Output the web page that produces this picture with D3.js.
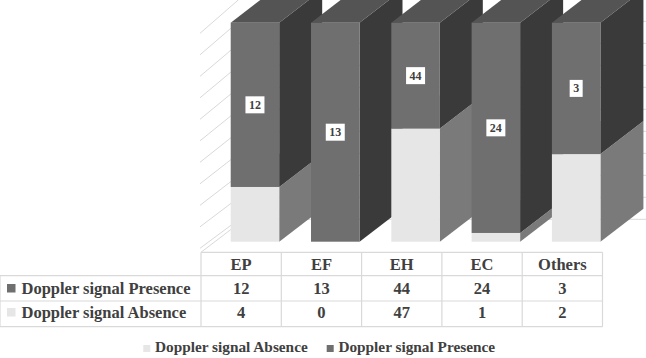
<!DOCTYPE html>
<html>
<head>
<meta charset="utf-8">
<script src="https://cdn.jsdelivr.net/npm/d3@7"></script>
<style>
	body { margin: 0; background: #fff; }
</style>
</head>
<body>
<svg></svg>
<script>
const categories = ['EP', 'EF', 'EH', 'EC', 'Others'];
const presence = [12, 13, 44, 24, 3];
const absence = [4, 0, 47, 1, 2];
const seriesNames = ['Doppler signal Absence', 'Doppler signal Presence'];
const gridTicks = [0, 0.1, 0.2, 0.3, 0.4, 0.5, 0.6, 0.7, 0.8, 0.9, 1];

const fontFamily = '"Liberation Serif"';

const svg = d3.select('svg')
	.attr('width', 646)
	.attr('height', 358);

const width = +svg.attr('width');

const colors = {
	absence: { front: '#e6e6e6', side: '#7a7a7a', top: '#bdbdbd' },
	presence: { front: '#6f6f6f', side: '#3a3a3a', top: '#545454' }
};

// table / category layout
const tableTop = 252.3,
	rowH = [23.4, 25.3, 25.7],
	labelColW = 201;

const xBand = d3.scaleBand()
	.domain(categories)
	.range([labelColW, 602.5]);

// value scales: bar front plane and back wall
const yFront = d3.scaleLinear().domain([0, 1]).range([241.7, 22.7]);
const yBack = d3.scaleLinear().domain([0, 1]).range([219.3, -0.7]);
const yWallFront = d3.scaleLinear().domain([0, 1]).range([248.3, 33.3]);

const depth = { dx: 43, dy: 33 },
	barOffset = 0.37,
	barWidth = 0.604;

const rows = categories.map((c, i) => ({ cat: c, absence: absence[i], presence: presence[i] }));
const stack = d3.stack()
	.keys(['absence', 'presence'])
	.offset(d3.stackOffsetExpand);
const stacked = stack(rows);

const grid = svg.append('g');

// back wall gridlines
grid.selectAll('.back')
	.data(gridTicks)
	.join('line')
	.attr('x1', 239).attr('x2', width)
	.attr('y1', d => yBack(d)).attr('y2', d => yBack(d))
	.attr('stroke', '#d9d9d9');

// side wall gridlines
grid.selectAll('.side')
	.data(gridTicks)
	.join('line')
	.attr('x1', 200).attr('x2', 239)
	.attr('y1', d => yWallFront(d)).attr('y2', d => yBack(d))
	.attr('stroke', '#d9d9d9');

// floor left edge
grid.append('line')
	.attr('x1', labelColW).attr('y1', tableTop)
	.attr('x2', labelColW + 38).attr('y2', tableTop - 29)
	.attr('stroke', '#d9d9d9');

// bars, drawn left to right so the next front face hides the previous side
const bars = svg.append('g');
categories.forEach((c, i) => {
	const x0 = xBand(c) + xBand.bandwidth() * barOffset,
		x1 = x0 + xBand.bandwidth() * barWidth;
	stacked.forEach(s => {
		const d = s[i];
		if (d[1] - d[0] <= 0) return;
		const col = colors[s.key];
		const yb = yFront(d[0]), yt = yFront(d[1]);
		const g = bars.append('g');
		g.append('path')
			.attr('d', `M${x1},${yb}L${x1 + depth.dx},${yb - depth.dy}L${x1 + depth.dx},${yt - depth.dy}L${x1},${yt}Z`)
			.attr('fill', col.side);
		g.append('path')
			.attr('d', `M${x0},${yt}L${x1},${yt}L${x1 + depth.dx},${yt - depth.dy}L${x0 + depth.dx},${yt - depth.dy}Z`)
			.attr('fill', col.top);
		g.append('rect')
			.attr('x', x0).attr('y', yt)
			.attr('width', x1 - x0).attr('height', yb - yt)
			.attr('fill', col.front);
	});
});

// data labels on the presence segment
const labels = svg.append('g');
stacked[1].forEach((d, i) => {
	const cx = xBand(categories[i]) + xBand.bandwidth() * (barOffset + barWidth / 2);
	const cy = yFront((d[0] + d[1]) / 2);
	const lg = labels.append('g');
	const t = lg.append('text')
		.attr('x', cx).attr('y', cy + 4)
		.attr('text-anchor', 'middle')
		.attr('font-family', fontFamily)
		.attr('font-weight', 'bold')
		.attr('font-size', 12)
		.attr('fill', '#404040')
		.text(presence[i]);
	const bb = t.node().getBBox();
	lg.insert('rect', 'text')
		.attr('x', cx - bb.width / 2 - 3.5).attr('y', cy - 8.5)
		.attr('width', bb.width + 7).attr('height', 17)
		.attr('fill', '#fff');
});

// data table
const table = svg.append('g');
const rowY = [tableTop, tableTop + rowH[0], tableTop + rowH[0] + rowH[1], tableTop + rowH[0] + rowH[1] + rowH[2]];
const right = xBand.range()[1];

table.append('line')
	.attr('x1', labelColW).attr('x2', right)
	.attr('y1', rowY[0]).attr('y2', rowY[0]);
rowY.slice(1).forEach(y => {
	table.append('line')
		.attr('x1', 0).attr('x2', right)
		.attr('y1', y).attr('y2', y);
});
table.append('line')
	.attr('x1', 0).attr('x2', 0)
	.attr('y1', rowY[1]).attr('y2', rowY[3]);
categories.concat(['end']).forEach((c, i) => {
	const x = labelColW + i * xBand.bandwidth();
	table.append('line')
		.attr('x1', x).attr('x2', x)
		.attr('y1', rowY[0]).attr('y2', rowY[3]);
});
table.selectAll('line')
	.attr('stroke', '#d9d9d9')
	.attr('stroke-width', 1.2);

const cellText = (x, y, txt) => table.append('text')
	.attr('x', x).attr('y', y)
	.attr('text-anchor', 'middle')
	.attr('font-family', fontFamily)
	.attr('font-weight', 'bold')
	.attr('font-size', 16.5)
	.attr('fill', '#404040')
	.text(txt);

categories.forEach((c, i) => {
	const cx = xBand(c) + xBand.bandwidth() / 2;
	cellText(cx, 270, c);
	cellText(cx, 293.5, presence[i]);
	cellText(cx, 317.5, absence[i]);
});

const tableRows = [
	{ name: seriesNames[1], color: colors.presence.front, y: 293.5 },
	{ name: seriesNames[0], color: colors.absence.front, y: 317.5 }
];
tableRows.forEach(r => {
	table.append('rect')
		.attr('x', 7).attr('y', r.y - 9.5)
		.attr('width', 8.5).attr('height', 8.5)
		.attr('fill', r.color);
	cellText(21.5, r.y, r.name)
		.attr('text-anchor', 'start');
});

// legend
const legend = svg.append('g');
const legendItems = [
	{ name: seriesNames[0], color: colors.absence.front, x: 143.3 },
	{ name: seriesNames[1], color: colors.presence.front, x: 326.7 }
];
legendItems.forEach(l => {
	legend.append('rect')
		.attr('x', l.x).attr('y', 345)
		.attr('width', 7).attr('height', 7)
		.attr('fill', l.color);
	legend.append('text')
		.attr('x', l.x + 11.7).attr('y', 352.3)
		.attr('font-family', fontFamily)
		.attr('font-weight', 'bold')
		.attr('font-size', 15.3)
		.attr('fill', '#404040')
		.text(l.name);
});
</script>
</body>
</html>
